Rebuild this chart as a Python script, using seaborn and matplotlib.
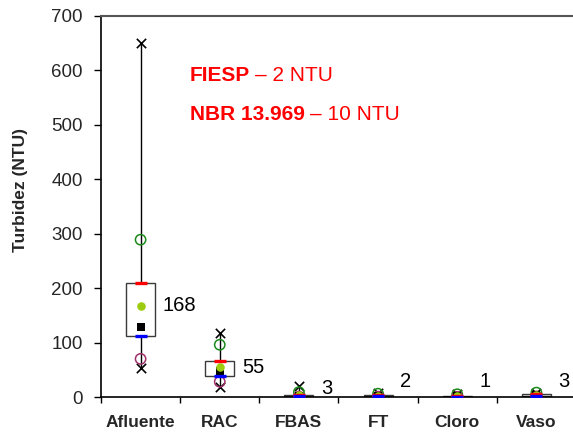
import matplotlib
matplotlib.use("Agg")
import matplotlib.pyplot as plt
import seaborn as sns
import pandas as pd
from matplotlib.ticker import FixedLocator

categories = ["Afluente", "RAC", "FBAS", "FT", "Cloro", "Vaso"]
v_max = [650, 118, 20, 7, 6, 8]
v_min = [53, 19, 0.5, 0.3, 0.2, 0.5]
v_p90 = [289, 96, 9, 6, 5, 8]
v_p10 = [70, 28, 0.8, 0.5, 0.3, 1]
v_q3 = [210, 66, 4, 3, 2, 5]
v_q1 = [112, 39, 1, 1, 0.5, 2]
v_median = [129, 48, 2, 2, 1, 3]
v_mean = [168, 55, 3, 2, 1, 3]
mean_labels = ["168", "55", "3", "2", "1", "3"]
label_y = [168, 55, 15, 28, 28, 29]

df = pd.DataFrame({"cat": categories, "max": v_max, "min": v_min, "p90": v_p90,
                   "p10": v_p10, "q3": v_q3, "q1": v_q1, "median": v_median,
                   "mean": v_mean})

sns.set_style("white")
plt.rcParams["font.family"] = ["Liberation Sans", "DejaVu Sans"]

fig = plt.figure(figsize=(5.73, 4.36), dpi=100)
ax = fig.add_axes([101 / 573, 39 / 436, 475 / 573, 381 / 436])

# boxes and whiskers
stats = []
for i, c in enumerate(categories):
    stats.append(dict(med=v_median[i], q1=v_q1[i], q3=v_q3[i],
                      whislo=v_min[i], whishi=v_max[i], label=c))
ax.bxp(stats, positions=list(range(len(categories))), widths=0.366,
       showfliers=False, showcaps=False, patch_artist=True,
       boxprops=dict(facecolor="white", edgecolor="#3a3a3a", linewidth=1.0),
       whiskerprops=dict(color="black", linewidth=1.0),
       medianprops=dict(linewidth=0), manage_ticks=False, zorder=2)

common = dict(data=df, x="cat", ax=ax, legend=False)
sns.scatterplot(y="max", marker="x", color="black", s=45, linewidth=1.2, zorder=3, **common)
sns.scatterplot(y="min", marker="x", color="black", s=45, linewidth=1.2, zorder=3, **common)
sns.scatterplot(y="p90", marker="o", facecolor="none", edgecolor="#1a8a1a", s=55, linewidth=1.1, zorder=4, **common)
sns.scatterplot(y="p10", marker="o", facecolor="none", edgecolor="#a0306a", s=55, linewidth=1.1, zorder=4, **common)
sns.scatterplot(y="median", marker="s", color="black", s=28, linewidth=0, zorder=5, **common)
sns.scatterplot(y="mean", marker="o", color="#9ccc10", s=38, linewidth=0, zorder=6, **common)
sns.scatterplot(y="q3", marker="_", color="#ff0000", s=75, linewidth=2.4, zorder=7, **common)
sns.scatterplot(y="q1", marker="_", color="#0000ff", s=75, linewidth=2.4, zorder=7, **common)

for i, lab in enumerate(mean_labels):
    ax.text(i + 0.28, label_y[i], lab, fontsize=14.5, va="center", ha="left", color="black")

t1 = ax.text(0.62, 590, "FIESP", fontsize=15, fontweight="bold", color="#ff0000", va="center")
ax.annotate("– 2 NTU", xy=(1, 0.5), xycoords=t1, xytext=(4, 0), textcoords="offset points",
            fontsize=15, color="#ff0000", va="center")
t2 = ax.text(0.62, 519, "NBR 13.969", fontsize=15, fontweight="bold", color="#ff0000", va="center")
ax.annotate("– 10 NTU", xy=(1, 0.5), xycoords=t2, xytext=(4, 0), textcoords="offset points",
            fontsize=15, color="#ff0000", va="center")

ax.set_xlim(-0.5, 5.5)
ax.set_ylim(0, 700)
ax.set_yticks(range(0, 701, 100))
ax.set_xticks(range(len(categories)))
ax.set_xticklabels(categories, fontsize=12.5, fontweight="bold")
ax.xaxis.set_minor_locator(FixedLocator([i + 0.5 for i in range(-1, 6)]))
ax.tick_params(axis="x", which="major", length=0, pad=13)
ax.tick_params(axis="x", which="minor", length=4, width=1, color="black", direction="out", bottom=True)
ax.tick_params(axis="y", length=5, width=1, color="black", direction="out", left=True, labelsize=13.5, pad=8)
ax.set_xlabel("")
ax.set_ylabel("Turbidez (NTU)", fontsize=12.5, fontweight="bold")
ax.yaxis.set_label_coords(-0.153, 0.543)

for s in ["left", "bottom"]:
    ax.spines[s].set_color("black")
    ax.spines[s].set_linewidth(1.2)
ax.spines["top"].set_color("#555555")
ax.spines["top"].set_linewidth(1.5)
ax.spines["right"].set_visible(False)

fig.savefig("out.png", dpi=100)
